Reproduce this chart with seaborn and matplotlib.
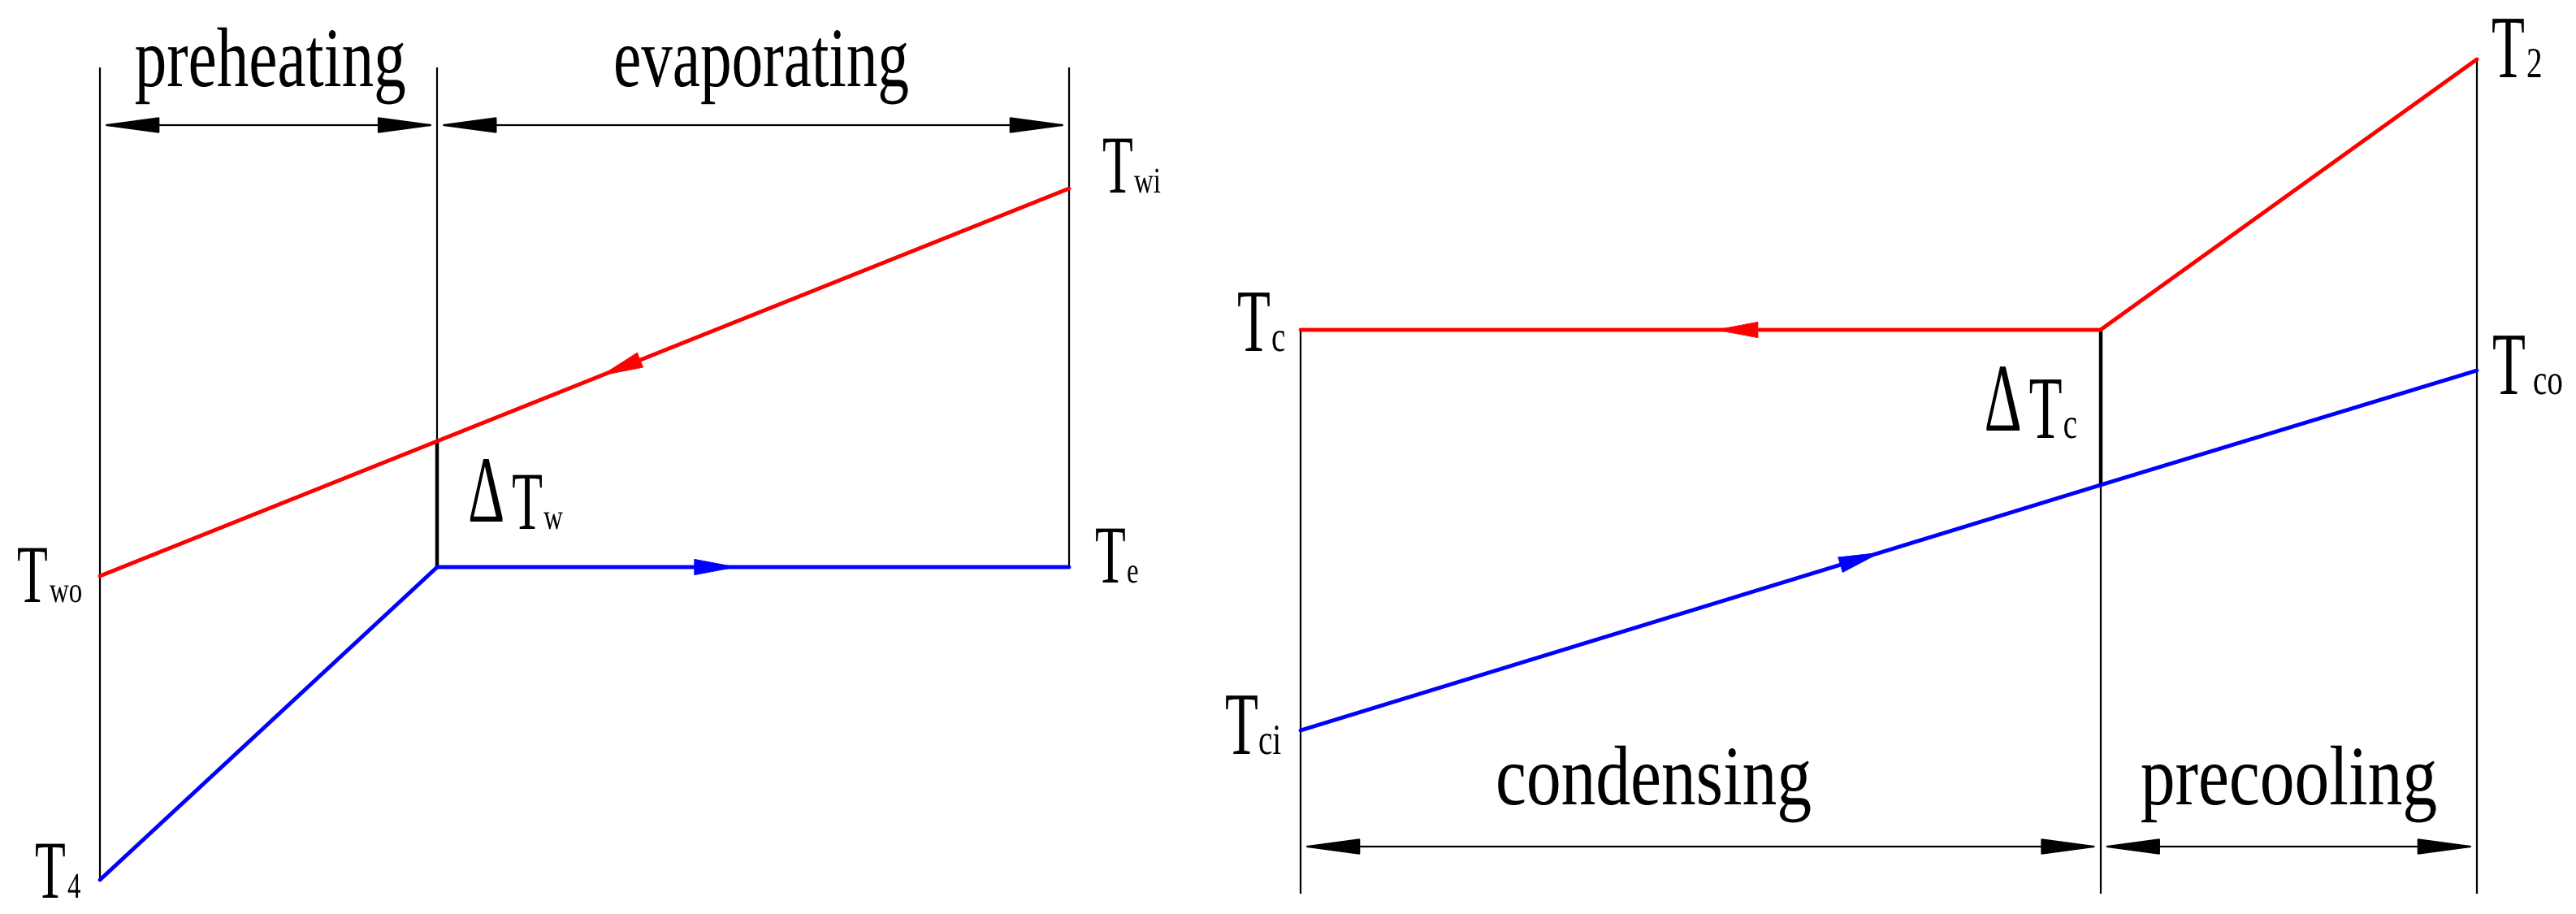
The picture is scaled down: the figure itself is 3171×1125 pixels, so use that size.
import numpy as np
import matplotlib
matplotlib.use("Agg")
import matplotlib.pyplot as plt
import seaborn as sns
from matplotlib.patheffects import AbstractPathEffect
from matplotlib.transforms import Affine2D, offset_copy

# ---------------- data (position = fraction of exchanger length, temperature = arbitrary units)
evap_pos = [0.0, 0.348, 1.0]
evap_water = [41.6, 58.2, 89.3]      # T_wo, pinch, T_wi
evap_refrig = [4.2, 42.7, 42.7]      # T_4, T_e, T_e
evap_sections = ["preheating", "evaporating"]

cond_pos = [0.0, 0.68, 1.0]
cond_refrig = [71.9, 71.9, 105.2]    # T_c, T_c, T_2
cond_water = [22.6, 52.8, 66.9]      # T_ci, pinch, T_co
cond_sections = ["condensing", "precooling"]

evap_point_labels = [("T", "wo"), ("T", "4"), ("T", "wi"), ("T", "e")]
cond_point_labels = [("T", "c"), ("T", "ci"), ("T", "2"), ("T", "co")]
pinch_labels = [("Δ", "T", "w"), ("Δ", "T", "c")]

# ---------------- style
sns.set_theme(style="white")
SERIF = ["Liberation Serif", "DejaVu Serif"]
plt.rcParams["font.family"] = SERIF

RED, BLUE, BLACK = "#ff0000", "#0000ff", "#000000"
W, H = 3171, 1125


class TallText(AbstractPathEffect):
    """Stretch glyphs vertically about the baseline (narrow CAD-like serif look)."""

    def __init__(self, sy=1.5):
        super().__init__()
        self.sy = sy

    def draw_path(self, renderer, gc, tpath, affine, rgbFace=None):
        aff = Affine2D().scale(1.0, self.sy) + affine
        renderer.draw_path(gc, tpath, aff, rgbFace)


fig = plt.figure(figsize=(W / 100, H / 100), dpi=100)
fig.patch.set_facecolor("white")
ax_e = fig.add_axes([123 / W, 0, (1316 - 123) / W, 1])
ax_c = fig.add_axes([1601 / W, 0, (3049 - 1601) / W, 1])
for ax in (ax_e, ax_c):
    ax.set_xlim(0, 1)
    ax.set_ylim(0, 112.5)
    ax.set_axis_off()

TH = 1.6      # thin guide lines
TK = 3.2      # thick pinch segments
LW = 3.5      # stream lines
SEC_FS = 75
T_SX, SUB_SX, DELTA_SX = 0.61, 0.74, 0.6


def put(ax, xy, off, s, size, sx, ha="left"):
    """size = apparent (cap) size, sx = horizontal condensation."""
    tr = offset_copy(ax.transData, fig=fig, x=off[0], y=-off[1], units="dots")
    ax.text(xy[0], xy[1], s, transform=tr, ha=ha, va="baseline",
            fontsize=size * sx, color=BLACK, family=SERIF, clip_on=False,
            path_effects=[TallText(1.0 / sx)])


def point_label(ax, xy, pair, off_main, off_sub, main_fs, sub_fs):
    put(ax, xy, off_main, pair[0], main_fs, T_SX)
    put(ax, xy, off_sub, pair[1], sub_fs, SUB_SX)


def dim_arrow(ax, x0, x1, y):
    ax.annotate("", xy=(x1, y), xytext=(x0, y), xycoords="data",
                arrowprops=dict(arrowstyle="<|-|>,head_length=4.6,head_width=0.62",
                                mutation_scale=10, color=BLACK, lw=1.6,
                                shrinkA=0, shrinkB=0, clip_on=False),
                annotation_clip=False)


def flow_arrow(ax, xs, ys, x_tip, direction, color, L=52):
    y_tip = np.interp(x_tip, xs, ys)
    dx = 0.01 * direction
    y_back = np.interp(x_tip - dx, xs, ys)
    p_tip = ax.transData.transform((x_tip, y_tip))
    p_back = ax.transData.transform((x_tip - dx, y_back))
    v = p_tip - p_back
    v = v / np.hypot(*v)
    ax.annotate("", xy=(x_tip, y_tip), xycoords="data",
                xytext=(-v[0] * L, -v[1] * L), textcoords="offset pixels",
                arrowprops=dict(arrowstyle="-|>,head_length=3.7,head_width=0.7",
                                mutation_scale=10, color=color, lw=0.5,
                                shrinkA=0, shrinkB=0), zorder=5)


def stream(ax, xs, ys, color):
    sns.lineplot(x=xs, y=ys, color=color, lw=LW, ax=ax, sort=False,
                 estimator=None, legend=False, zorder=4, clip_on=False,
                 solid_joinstyle="miter")


# ================= evaporator (left) =================
ax = ax_e
top_e, dim_e = 104.2, 97.1
xm = evap_pos[1]
ax.vlines(evap_pos[0], evap_refrig[0], top_e, color=BLACK, lw=TH, clip_on=False)
ax.vlines(xm, evap_water[1], top_e, color=BLACK, lw=TH, clip_on=False)
ax.vlines(xm, evap_refrig[1], evap_water[1], color=BLACK, lw=TK, clip_on=False)
ax.vlines(evap_pos[2], evap_refrig[2], top_e, color=BLACK, lw=TH, clip_on=False)
dim_arrow(ax, evap_pos[0], xm, dim_e)
dim_arrow(ax, xm, evap_pos[2], dim_e)

stream(ax, evap_pos, evap_water, RED)
stream(ax, evap_pos, evap_refrig, BLUE)
flow_arrow(ax, evap_pos, evap_water, 0.516, -1, RED)
flow_arrow(ax, evap_pos, evap_refrig, 0.658, +1, BLUE)

put(ax, ((evap_pos[0] + xm) / 2, dim_e), (2, -48), evap_sections[0], SEC_FS, 0.76, ha="center")
put(ax, ((xm + evap_pos[2]) / 2, dim_e), (10, -48), evap_sections[1], SEC_FS, 0.74, ha="center")

LM, LS = 73, 32
point_label(ax, (evap_pos[0], evap_water[0]), evap_point_labels[0], (-102, 32), (-62, 32), LM, LS)
point_label(ax, (evap_pos[0], evap_refrig[0]), evap_point_labels[1], (-80, 22), (-40, 22), LM, LS)
point_label(ax, (evap_pos[2], evap_water[2]), evap_point_labels[2], (41, 5), (80, 5), LM, LS)
point_label(ax, (evap_pos[2], evap_refrig[2]), evap_point_labels[3], (32, 19), (71, 19), LM, LS)
d, t, s = pinch_labels[0]
put(ax, (xm, evap_refrig[1]), (38, -56), d, 84, DELTA_SX)
put(ax, (xm, evap_refrig[1]), (92, -47), t, LM, T_SX)
put(ax, (xm, evap_refrig[1]), (131, -47), s, LS, SUB_SX)

# ================= condenser (right) =================
ax = ax_c
bot_c, dim_c = 2.5, 8.3
xm = cond_pos[1]
ax.vlines(cond_pos[0], bot_c, cond_refrig[0], color=BLACK, lw=TH, clip_on=False)
ax.vlines(xm, bot_c, cond_water[1], color=BLACK, lw=TH, clip_on=False)
ax.vlines(xm, cond_water[1], cond_refrig[1], color=BLACK, lw=TK, clip_on=False)
ax.vlines(cond_pos[2], bot_c, cond_refrig[2], color=BLACK, lw=TH, clip_on=False)
dim_arrow(ax, cond_pos[0], xm, dim_c)
dim_arrow(ax, xm, cond_pos[2], dim_c)

stream(ax, cond_pos, cond_refrig, RED)
stream(ax, cond_pos, cond_water, BLUE)
flow_arrow(ax, cond_pos, cond_refrig, 0.352, -1, RED)
flow_arrow(ax, cond_pos, cond_water, 0.494, +1, BLUE)

put(ax, ((cond_pos[0] + xm) / 2, dim_c), (-58, -52), cond_sections[0], SEC_FS, 0.82, ha="center")
put(ax, ((xm + cond_pos[2]) / 2, dim_c), (0, -52), cond_sections[1], SEC_FS, 0.82, ha="center")

RM, RS = 79, 38
point_label(ax, (cond_pos[0], cond_refrig[0]), cond_point_labels[0], (-78, 26), (-36, 26), RM, RS)
point_label(ax, (cond_pos[0], cond_water[0]), cond_point_labels[1], (-93, 29), (-52, 29), RM, RS)
point_label(ax, (cond_pos[2], cond_refrig[2]), cond_point_labels[2], (18, 22), (61, 22), RM, RS)
point_label(ax, (cond_pos[2], cond_water[2]), cond_point_labels[3], (19, 29), (69, 29), RM, RS)
d, t, s = pinch_labels[1]
put(ax, (xm, cond_refrig[1]), (-143, 124), d, 86, DELTA_SX)
put(ax, (xm, cond_refrig[1]), (-88, 133), t, RM, T_SX)
put(ax, (xm, cond_refrig[1]), (-46, 133), s, RS, SUB_SX)

fig.savefig("out.png", dpi=100, facecolor="white")
